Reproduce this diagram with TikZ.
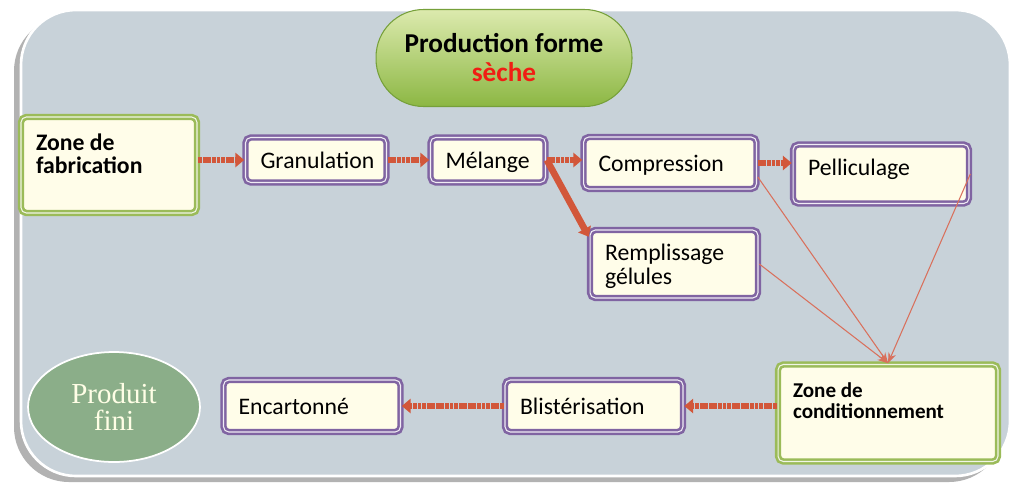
\documentclass[tikz,border=0pt]{standalone}
\usepackage{fontspec}
\setsansfont{Carlito}
\newfontfamily\produitfont{Liberation Serif}
\usepackage{tikz}
\usetikzlibrary{arrows.meta,shapes.geometric}

\definecolor{panelblue}{HTML}{C8D2D9}
\definecolor{cream}{HTML}{FFFDE9}
\definecolor{procpurple}{HTML}{8064A2}
\definecolor{zonegreen}{HTML}{9BBB59}
\definecolor{flowred}{HTML}{D2573A}
\definecolor{linkred}{HTML}{D9705C}
\definecolor{pilltop}{HTML}{DCEAAE}
\definecolor{pillbot}{HTML}{8CB743}
\definecolor{pilledge}{HTML}{76A03A}
\definecolor{produitgreen}{HTML}{8BAE89}
\definecolor{sechered}{HTML}{F01E14}

\begin{document}
\begin{tikzpicture}[x=0.02cm,y=-0.02cm,
	procbox/.style={draw=procpurple,double=white!88!procpurple,line width=1.5pt,double distance=0.6pt,fill=cream,rounded corners=3pt,align=flush left,inner xsep=0.3cm,text height=12.5pt,text depth=3pt,font=\sffamily\fontsize{13.5}{14}\selectfont},
	zonebox/.style={procbox,draw=zonegreen,double=white!85!zonegreen,font=\sffamily\bfseries\fontsize{13.5}{13.5}\selectfont},
	flow/.style={draw=flowred,line width=3pt,dash pattern=on 2.2pt off 0.4pt,-{Triangle[length=5pt,width=8pt]}},
	link/.style={draw=linkred,line width=0.6pt,-{Stealth[length=6pt,width=4.5pt]}}]
	
	\useasboundingbox (0,0) rectangle (1013,484);
	\fill[white] (0,0) rectangle (1013,484);
	\fill[gray!60,rounded corners=1.1cm] (14,16) rectangle (1004,482);
	\filldraw[draw=white,line width=1.5pt,fill=panelblue,rounded corners=1.1cm] (21,10) rectangle (1010,476);
	
	\node (titre) [draw=pilledge,line width=0.6pt,top color=pilltop,bottom color=pillbot,rounded corners=0.95cm,minimum width=5.12cm,minimum height=1.94cm,align=center,font=\sffamily\bfseries\fontsize{15.5}{16.5}\selectfont] at (504,58) {Production forme\\\textcolor{sechered}{sèche}};
	
	\node (fab) [zonebox,text width=2.92cm,minimum height=1.92cm,text depth=1.03cm] at (109,165) {Zone de\\fabrication};
	\node (gran) [procbox,text width=2.22cm,minimum height=0.9cm] at (316,160) {Granulation};
	\node (mel) [procbox,text width=1.7cm,minimum height=0.9cm] at (488,160) {Mélange};
	\node (comp) [procbox,text width=2.86cm,minimum height=1.04cm] at (670,163) {Compression};
	\node (pell) [procbox,text width=2.92cm,minimum height=1.18cm,text depth=0.38cm] at (881,174) {Pelliculage};
	\node (remp) [procbox,text width=2.76cm,minimum height=1.36cm,text depth=17pt] at (674,264) {Remplissage\\gélules};
	\node (cond) [zonebox,text width=3.8cm,minimum height=1.94cm,text depth=1.04cm,font=\sffamily\bfseries\fontsize{12}{11.5}\selectfont] at (888,413) {Zone de\\conditionnement};
	\node (blist) [procbox,text width=2.96cm,minimum height=1.04cm] at (594,406) {Blistérisation};
	\node (encart) [procbox,text width=2.94cm,minimum height=1.04cm] at (312,406) {Encartonné};
	\node (fini) [ellipse,draw=white,line width=1pt,fill=produitgreen,minimum width=3.44cm,minimum height=2.2cm,align=center,text=white!90!yellow,font=\produitfont\fontsize{16.5}{15.5}\selectfont] at (114,407) {Produit\\fini};
	
	\draw[flow] (fab.east |- gran.west) -- (gran.west);
	\draw[flow] (gran) -- (mel);
	\draw[flow] (mel.east) -- (mel.east -| comp.west);
	\draw[flow] (comp.east) -- (comp.east -| pell.west);
	\draw[flow,solid,line width=3.8pt] (mel.east) -- ([yshift=-0.16cm]remp.north west);
	
	\draw[link] ([yshift=-0.28cm]comp.east) -- (cond.north);
	\draw[link] (pell.east) -- (cond.north);
	\draw[link] (remp.east) -- (cond.north);
	
	\draw[flow] (cond.west |- blist.east) -- (blist.east);
	\draw[flow] (blist) -- (encart);
	
\end{tikzpicture}
\end{document}
